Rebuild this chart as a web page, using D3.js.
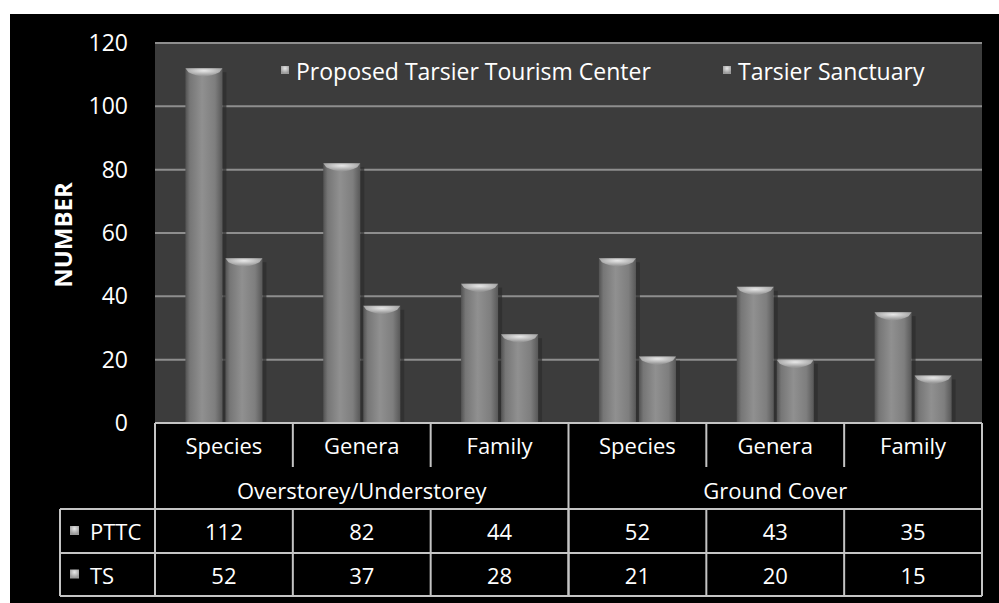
<!DOCTYPE html>
<html>
<head>
<meta charset="utf-8">
<script src="https://cdn.jsdelivr.net/npm/d3@7"></script>
<style>
  html, body { margin: 0; padding: 0; background: #fff; }
  svg { display: block; font-family: "Open Sans", "Noto Sans", sans-serif; }
</style>
</head>
<body>
<svg id="chart" width="999" height="603"></svg>
<script>
const groups = ['Overstorey/Understorey', 'Ground Cover'];
const levels = ['Species', 'Genera', 'Family'];
const seriesNames = ['Proposed Tarsier Tourism Center', 'Tarsier Sanctuary'];
const seriesShort = ['PTTC', 'TS'];
const pttc = [112, 82, 44, 52, 43, 35];
const ts = [52, 37, 28, 21, 20, 15];
const yTicks = [0, 20, 40, 60, 80, 100, 120];

const columns = [];
groups.forEach(g => levels.forEach(l => columns.push({ group: g, level: l })));
const values = [pttc, ts];

const svg = d3.select('#chart');
const plot = { left: 155, right: 982, top: 43, bottom: 423 };
const rowY = [423, 467, 509, 553, 596];
const fs = 22;

// black backdrop
svg.append('rect').attr('x', 10).attr('y', 14).attr('width', 989).attr('height', 589).attr('fill', '#000');

const x = d3.scaleBand().domain(d3.range(columns.length)).range([plot.left, plot.right]);
const xs = d3.scaleBand().domain([0, 1]).range([0, x.bandwidth()]).paddingInner(0.075).paddingOuter(0.76);
const y = d3.scaleLinear().domain([0, 120]).range([plot.bottom, plot.top]);

const defs = svg.append('defs');
const grad = defs.append('linearGradient').attr('id', 'barGrad').attr('x1', 0).attr('x2', 1).attr('y1', 0).attr('y2', 0);
[[0, '#525252'], [0.12, '#767676'], [0.45, '#909090'], [0.8, '#7e7e7e'], [1, '#585858']].forEach(([o, c]) =>
  grad.append('stop').attr('offset', o).attr('stop-color', c));
const capGrad = defs.append('radialGradient').attr('id', 'capGrad').attr('cx', 0.5).attr('cy', 0.3).attr('r', 0.6);
capGrad.append('stop').attr('offset', 0).attr('stop-color', '#e8e8e8');
capGrad.append('stop').attr('offset', 1).attr('stop-color', '#9a9a9a');

// plot area
svg.append('rect').attr('x', plot.left).attr('y', plot.top)
  .attr('width', plot.right - plot.left).attr('height', plot.bottom - plot.top).attr('fill', '#3c3c3c');

svg.append('g').selectAll('line').data(yTicks.filter(t => t > 0)).join('line')
  .attr('x1', plot.left).attr('x2', plot.right)
  .attr('y1', d => y(d)).attr('y2', d => y(d))
  .attr('stroke', '#8e8e8e').attr('stroke-width', 2);

// y axis labels
const yAxis = d3.axisLeft(y).tickValues(yTicks).tickSize(0).tickPadding(27);
const ya = svg.append('g').attr('transform', `translate(${plot.left},0)`).call(yAxis);
ya.select('.domain').remove();
ya.selectAll('text').attr('fill', '#fff').attr('font-size', 23).style('font-family', '"Open Sans", sans-serif');

svg.append('text').attr('transform', 'translate(72,235) rotate(-90)')
  .attr('text-anchor', 'middle').attr('fill', '#fff').attr('font-size', 24).attr('font-weight', 'bold')
  .text('NUMBER');

// bars
const barData = [];
columns.forEach((c, i) => values.forEach((v, s) => barData.push({ i, s, v: v[i] })));
const bars = svg.append('g').selectAll('g').data(barData).join('g')
  .attr('transform', d => `translate(${x(d.i) + xs(d.s)},0)`);
const bw = xs.bandwidth();
bars.append('rect').attr('x', bw).attr('width', 4)
  .attr('y', d => y(d.v) + 4).attr('height', d => plot.bottom - y(d.v) - 4)
  .attr('fill', '#2c2c2c').attr('opacity', 0.7);
bars.append('rect').attr('x', 0).attr('width', bw)
  .attr('y', d => y(d.v)).attr('height', d => plot.bottom - y(d.v))
  .attr('fill', 'url(#barGrad)');
bars.append('path')
  .attr('d', d => {
    const t = y(d.v);
    return `M0,${t} L${bw},${t} L${bw - 3},${t + 4} Q${bw / 2},${t + 12} 3,${t + 4} Z`;
  })
  .attr('fill', 'url(#capGrad)');

// plot border
svg.append('line').attr('x1', plot.left).attr('x2', plot.right).attr('y1', plot.top).attr('y2', plot.top)
  .attr('stroke', '#8e8e8e').attr('stroke-width', 2);

// legend
const legend = svg.append('g');
const legX = [281, 723];
seriesNames.forEach((name, i) => {
  const lg = legend.append('g').attr('transform', `translate(${legX[i]},72)`);
  lg.append('rect').attr('x', 0).attr('y', -6).attr('width', 8).attr('height', 8).attr('fill', 'url(#capGrad)');
  lg.append('text').attr('x', 15).attr('y', 8).attr('fill', '#fff').attr('font-size', 23).text(name);
});

// data table
const table = svg.append('g');
const tStroke = '#c4c4c4';
const hline = (x1, x2, yy) => table.append('line').attr('x1', x1).attr('x2', x2).attr('y1', yy).attr('y2', yy)
  .attr('stroke', tStroke).attr('stroke-width', 2);
const vline = (xx, y1, y2) => table.append('line').attr('x1', xx).attr('x2', xx).attr('y1', y1).attr('y2', y2)
  .attr('stroke', tStroke).attr('stroke-width', 2);

hline(plot.left, plot.right, rowY[0]);
hline(60, plot.right, rowY[2]);
hline(60, plot.right, rowY[3]);
hline(60, plot.right, rowY[4]);
vline(60, rowY[2], rowY[4]);
vline(plot.left, rowY[0], rowY[4]);
vline(plot.right, rowY[0], rowY[4]);
columns.forEach((c, i) => {
  if (i === 0) return;
  const full = i % levels.length === 0;
  vline(x(i), rowY[0], full ? rowY[4] : rowY[1]);
  vline(x(i), rowY[2], rowY[4]);
});

const cellText = (tx, ty, str, anchor) => table.append('text').attr('x', tx).attr('y', ty)
  .attr('text-anchor', anchor || 'middle').attr('dominant-baseline', 'central')
  .attr('fill', '#fff').attr('font-size', fs).text(str);

columns.forEach((c, i) => cellText(x(i) + x.bandwidth() / 2, (rowY[0] + rowY[1]) / 2, c.level));
groups.forEach((g, gi) => {
  const cx = (x(gi * levels.length) + x(gi * levels.length + levels.length - 1) + x.bandwidth()) / 2;
  cellText(cx, (rowY[1] + rowY[2]) / 2 + 2, g);
});
values.forEach((vals, s) => {
  const cy = (rowY[2 + s] + rowY[3 + s]) / 2;
  table.append('rect').attr('x', 70).attr('y', cy - 5).attr('width', 9).attr('height', 9).attr('fill', 'url(#capGrad)');
  cellText(90, cy, seriesShort[s], 'start');
  vals.forEach((v, i) => cellText(x(i) + x.bandwidth() / 2, cy, v));
});
</script>
</body>
</html>
